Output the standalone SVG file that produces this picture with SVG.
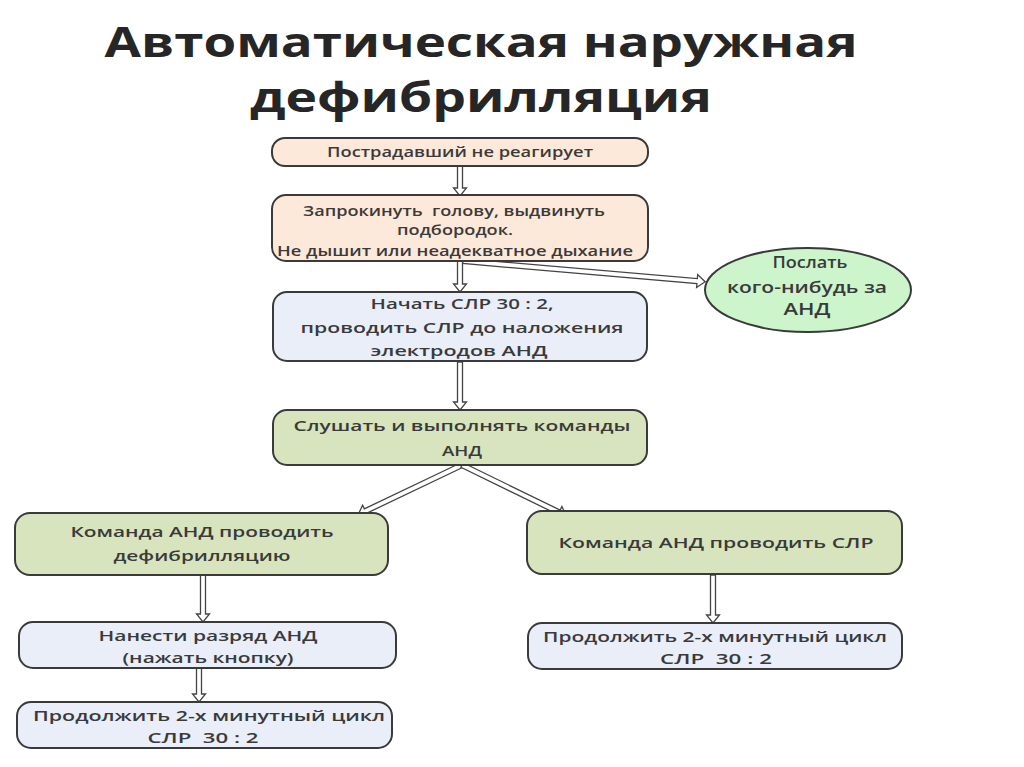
<svg xmlns="http://www.w3.org/2000/svg" width="1024" height="767" viewBox="0 0 1024 767">
<style>
.t{font-family:"Open Sans","Liberation Sans",sans-serif;font-weight:bold;fill:#262626;font-size:41px;text-anchor:middle}
.n{font-family:"Open Sans","Liberation Sans",sans-serif;font-weight:600;fill:#3a3a3a;font-size:15px;text-anchor:middle}
.e{font-size:16px}
.box{stroke:#3a3a3a;stroke-width:2}
.peach{fill:#fde9d9}.blue{fill:#e9eef8}.olive{fill:#d7e4bd}.mint{fill:#ccf5cc}
.arr{fill:#fff;stroke:#444;stroke-width:1.3;stroke-linejoin:miter}
</style>
<rect width="1024" height="767" fill="#fff"/>
<g id="title">
<text class="t" x="481" y="57" textLength="753" lengthAdjust="spacingAndGlyphs">Автоматическая наружная</text>
<text class="t" x="481" y="112" textLength="462" lengthAdjust="spacingAndGlyphs">дефибрилляция</text>
</g>
<g id="connectors">
<polygon class="arr" transform="translate(460,166) rotate(90)" points="0,-2.5 22,-2.5 22,-6.5 30,0 22,6.5 22,2.5 0,2.5"/>
<polygon class="arr" transform="translate(460,261) rotate(90)" points="0,-2.5 23,-2.5 23,-6.5 31,0 23,6.5 23,2.5 0,2.5"/>
<polygon class="arr" transform="translate(460,362) rotate(90)" points="0,-2.5 40,-2.5 40,-6.5 48,0 40,6.5 40,2.5 0,2.5"/>
<polygon class="arr" transform="translate(463,261) rotate(4.9)" points="0,-2.5 235,-2.5 235,-6.5 243,0 235,6.5 235,2.5 0,2.5"/>
<polygon class="arr" transform="translate(462,465) rotate(154.5)" points="0,-2.5 107,-2.5 107,-6.5 115,0 107,6.5 107,2.5 0,2.5"/>
<polygon class="arr" transform="translate(462,465) rotate(26)" points="0,-2.5 108,-2.5 108,-6.5 116,0 108,6.5 108,2.5 0,2.5"/>
<polygon class="arr" transform="translate(203,575) rotate(90)" points="0,-2.5 39,-2.5 39,-6.5 47,0 39,6.5 39,2.5 0,2.5"/>
<polygon class="arr" transform="translate(199,668) rotate(90)" points="0,-2.5 26,-2.5 26,-6.5 34,0 26,6.5 26,2.5 0,2.5"/>
<polygon class="arr" transform="translate(713,575) rotate(90)" points="0,-2.5 40,-2.5 40,-6.5 48,0 40,6.5 40,2.5 0,2.5"/>
</g>
<g id="n1">
<rect class="box peach" x="272" y="138" width="376" height="28" rx="13"/>
<text class="n" x="460" y="157" textLength="266" lengthAdjust="spacingAndGlyphs">Пострадавший не реагирует</text>
</g>
<g id="n2">
<rect class="box peach" x="272" y="195" width="376" height="66" rx="14"/>
<text class="n" x="454" y="216" textLength="302" lengthAdjust="spacingAndGlyphs" xml:space="preserve">Запрокинуть  голову, выдвинуть</text>
<text class="n" x="455" y="235" textLength="116" lengthAdjust="spacingAndGlyphs">подбородок.</text>
<text class="n" x="455" y="256" textLength="356" lengthAdjust="spacingAndGlyphs">Не дышит или неадекватное дыхание</text>
</g>
<g id="n3">
<ellipse class="box mint" cx="808" cy="290" rx="103" ry="42"/>
<text class="n e" x="810" y="268" textLength="75" lengthAdjust="spacingAndGlyphs">Послать</text>
<text class="n e" x="807" y="293" textLength="160" lengthAdjust="spacingAndGlyphs">кого-нибудь за</text>
<text class="n e" x="807" y="315" textLength="47" lengthAdjust="spacingAndGlyphs">АНД</text>
</g>
<g id="n4">
<rect class="box blue" x="273" y="292" width="374" height="69" rx="14"/>
<text class="n" x="462" y="309" textLength="183" lengthAdjust="spacingAndGlyphs">Начать СЛР 30 : 2,</text>
<text class="n" x="462" y="333" textLength="323" lengthAdjust="spacingAndGlyphs">проводить СЛР до наложения</text>
<text class="n" x="459" y="356" textLength="177" lengthAdjust="spacingAndGlyphs">электродов АНД</text>
</g>
<g id="n5">
<rect class="box olive" x="273" y="410" width="374" height="55" rx="14"/>
<text class="n" x="462" y="431" textLength="337" lengthAdjust="spacingAndGlyphs">Слушать и выполнять команды</text>
<text class="n" x="462" y="456" textLength="40" lengthAdjust="spacingAndGlyphs">АНД</text>
</g>
<g id="n6">
<rect class="box olive" x="15" y="513" width="373" height="62" rx="15"/>
<text class="n" x="202" y="537" textLength="263" lengthAdjust="spacingAndGlyphs">Команда АНД проводить</text>
<text class="n" x="202" y="561" textLength="177" lengthAdjust="spacingAndGlyphs">дефибрилляцию</text>
</g>
<g id="n7">
<rect class="box olive" x="527" y="511" width="375" height="63" rx="15"/>
<text class="n" x="716" y="548" textLength="315" lengthAdjust="spacingAndGlyphs">Команда АНД проводить СЛР</text>
</g>
<g id="n8">
<rect class="box blue" x="19" y="622" width="377" height="46" rx="14"/>
<text class="n" x="208" y="641" textLength="219" lengthAdjust="spacingAndGlyphs">Нанести разряд АНД</text>
<text class="n" x="208" y="663" textLength="171" lengthAdjust="spacingAndGlyphs">(нажать кнопку)</text>
</g>
<g id="n9">
<rect class="box blue" x="17" y="702" width="375" height="46" rx="14"/>
<text class="n" x="209" y="721" textLength="352" lengthAdjust="spacingAndGlyphs">Продолжить 2-х минутный цикл</text>
<text class="n" x="203" y="743" textLength="111" lengthAdjust="spacingAndGlyphs" xml:space="preserve">СЛР  30 : 2</text>
</g>
<g id="n10">
<rect class="box blue" x="528" y="623" width="374" height="46" rx="14"/>
<text class="n" x="715" y="642" textLength="344" lengthAdjust="spacingAndGlyphs">Продолжить 2-х минутный цикл</text>
<text class="n" x="716" y="664" textLength="112" lengthAdjust="spacingAndGlyphs" xml:space="preserve">СЛР  30 : 2</text>
</g>
</svg>
